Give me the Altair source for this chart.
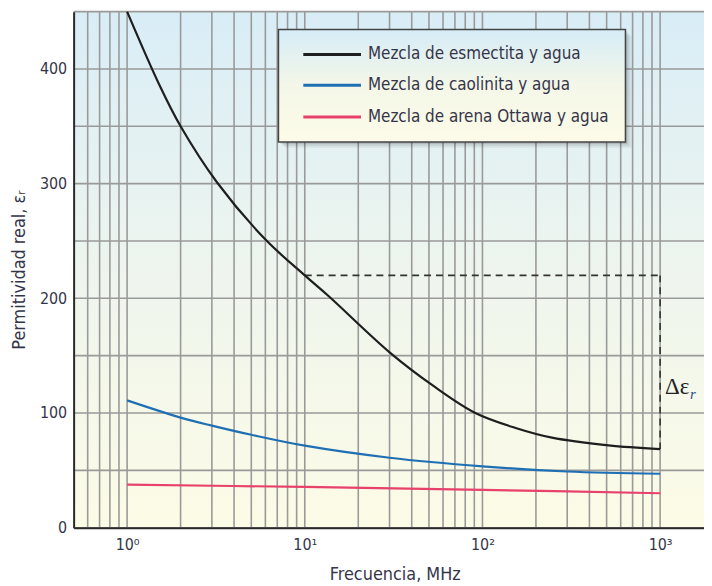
import altair as alt
import pandas as pd

FONT = "'Liberation Sans Narrow', 'DejaVu Sans Condensed', 'Roboto', sans-serif"
TEXT_COLOR = "#35354a"

series_names = ["Mezcla de esmectita y agua", "Mezcla de caolinita y agua", "Mezcla de arena Ottawa y agua"]
series_colors = ["#1e1e1e", "#1f6fb4", "#e8416c"]

freq_esmectita = [1, 1.52, 2, 3.21, 6.03, 10, 13.6, 30.5, 52.5, 91.2, 157, 246, 512, 1000]
val_esmectita = [450, 386, 350, 301, 251, 220, 202, 152, 124, 100, 86.5, 78.5, 71.8, 68.5]

freq_caolinita = [1, 2, 3, 5, 10, 30, 100, 300, 1000]
val_caolinita = [111, 96, 89, 81, 71.5, 61, 53.5, 49, 47]

freq_arena = [1, 10, 100, 1000]
val_arena = [37.5, 35.5, 33, 30]

x_grid = [0.6, 0.7, 0.8, 0.9, 1, 2, 3, 4, 5, 6, 7, 8, 9, 10, 20, 30, 40, 50, 60, 70, 80, 90,
          100, 200, 300, 400, 500, 600, 700, 800, 900, 1000]
y_grid = [0, 50, 100, 150, 200, 250, 300, 350, 400, 450]
y_ticks = [0, 100, 200, 300, 400]

delta_f = [10, 1000]
delta_top = 220
delta_bottom = 68.5
delta_label_value = 123

W, H = 634, 519

rows = []
for name, fs, vs in [(series_names[0], freq_esmectita, val_esmectita),
                     (series_names[1], freq_caolinita, val_caolinita),
                     (series_names[2], freq_arena, val_arena)]:
    for f, v in zip(fs, vs):
        rows.append({"serie": name, "freq": f, "value": v})
df = pd.DataFrame(rows)

xs = alt.Scale(type="log", domain=[0.5, 1766], nice=False)
ys = alt.Scale(domain=[0, 450], nice=False)

x_axis = alt.Axis(
    values=x_grid,
    labelExpr="datum.value == 1 ? '10⁰' : datum.value == 10 ? '10¹' : datum.value == 100 ? '10²' : datum.value == 1000 ? '10³' : ''",
    grid=False, ticks=False, domainColor="#2a2a2a", domainWidth=2,
    labelFontSize=16, labelColor=TEXT_COLOR, labelPadding=9, labelFlush=False, labelOverlap=False,
    titleFontSize=18, titleFontWeight="normal", titleColor=TEXT_COLOR,
    titleX=323, titleY=52, titleBaseline="alphabetic", zindex=1,
)
y_axis = alt.Axis(
    values=y_ticks, grid=False, ticks=False, domainColor="#2a2a2a", domainWidth=2,
    labelFontSize=16, labelColor=TEXT_COLOR, labelPadding=7,
    titleFontSize=18, titleFontWeight="normal", titleColor=TEXT_COLOR,
    titleX=-54, titleY=259.5, titleAngle=270, titleAlign="center", titleBaseline="middle", zindex=1,
)

X = alt.X("freq:Q", scale=xs, axis=x_axis, title="Frecuencia, MHz")
Y = alt.Y("value:Q", scale=ys, axis=y_axis, title="Permitividad real, εᵣ")

bg_grad = alt.LinearGradient(
    gradient="linear", x1=0, x2=0, y1=0, y2=1,
    stops=[alt.GradientStop(color="#d9edf7", offset=0),
           alt.GradientStop(color="#eef5ee", offset=0.5),
           alt.GradientStop(color="#fcfbe6", offset=1)],
)
dummy = pd.DataFrame({"d": [0]})

bg = alt.Chart(dummy).mark_rect(fill=bg_grad).encode(
    x=alt.value(0), x2=alt.value(W), y=alt.value(0), y2=alt.value(H))

vgrid = alt.Chart(pd.DataFrame({"freq": x_grid})).mark_rule(color="#9a9a9a", strokeWidth=1.6).encode(x=X)
hgrid = alt.Chart(pd.DataFrame({"value": y_grid})).mark_rule(color="#9a9a9a", strokeWidth=1.6).encode(y=Y)

dash_h = alt.Chart(pd.DataFrame({"freq": [delta_f[0]], "freq2": [delta_f[1]], "value": [delta_top]})).mark_rule(
    color="#333333", strokeWidth=1.6, strokeDash=[7, 5]).encode(x=X, x2="freq2:Q", y=Y)
dash_v = alt.Chart(pd.DataFrame({"freq": [delta_f[1]], "value": [delta_top], "value2": [delta_bottom]})).mark_rule(
    color="#333333", strokeWidth=1.6, strokeDash=[7, 5]).encode(x=X, y=Y, y2="value2:Q")

lines = alt.Chart(df).mark_line(strokeWidth=2.2, interpolate="catmull-rom").encode(
    x=X, y=Y,
    color=alt.Color("serie:N", scale=alt.Scale(domain=series_names, range=series_colors), legend=None),
    detail="serie:N",
)

lab_df = pd.DataFrame({"freq": [delta_f[1]], "value": [delta_label_value]})
delta_txt = alt.Chart(lab_df).mark_text(text="Δε", align="left", baseline="middle", dx=5,
                                        font="Liberation Serif", fontSize=23, color="#222222").encode(x=X, y=Y)
delta_sub = alt.Chart(lab_df).mark_text(text="r", align="left", baseline="middle", dx=30, dy=7,
                                        font="Liberation Serif", fontStyle="italic", fontSize=15,
                                        color="#2d4f8a").encode(x=X, y=Y)

# legend box
LX0, LX1, LY0, LY1 = 206, 555, 18, 131
legend_layers = []
for off, op in [(6, 0.06), (4, 0.08), (2, 0.1)]:
    legend_layers.append(alt.Chart(dummy).mark_rect(fill="#000000", opacity=op).encode(
        x=alt.value(LX0 + off), x2=alt.value(LX1 + off), y=alt.value(LY0 + off), y2=alt.value(LY1 + off)))
leg_grad = alt.LinearGradient(
    gradient="linear", x1=0, x2=0, y1=0, y2=1,
    stops=[alt.GradientStop(color="#d6ecf7", offset=0),
           alt.GradientStop(color="#f4f7e8", offset=0.5),
           alt.GradientStop(color="#fdfbe8", offset=1)],
)
legend_layers.append(alt.Chart(dummy).mark_rect(fill=leg_grad, stroke="#444444", strokeWidth=1.5).encode(
    x=alt.value(LX0), x2=alt.value(LX1), y=alt.value(LY0), y2=alt.value(LY1)))
entry_y = [43, 74, 106]
for name, col, yy in zip(series_names, series_colors, entry_y):
    legend_layers.append(alt.Chart(dummy).mark_rule(color=col, strokeWidth=3).encode(
        x=alt.value(231), x2=alt.value(289), y=alt.value(yy)))
    legend_layers.append(alt.Chart(dummy).mark_text(text=name, align="left", baseline="middle",
                                                    fontSize=17, font=FONT, color=TEXT_COLOR).encode(
        x=alt.value(296), y=alt.value(yy)))

chart = alt.layer(bg, vgrid, hgrid, dash_h, dash_v, lines, delta_txt, delta_sub, *legend_layers).properties(
    width=W, height=H,
    padding={"left": 66, "top": 2, "right": 0, "bottom": 57},
    autosize=alt.AutoSizeParams(type="none"),
).configure_view(strokeWidth=0).configure(font=FONT)

chart.save("out.html", embed_options={"renderer": "svg", "actions": False})
